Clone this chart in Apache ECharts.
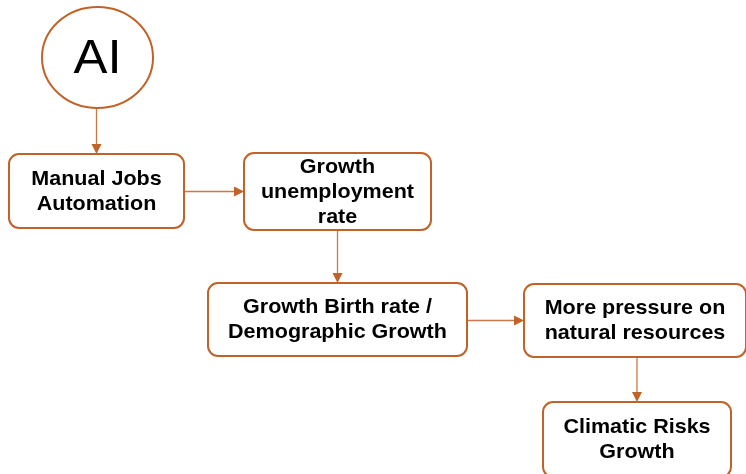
<!DOCTYPE html>
<html>
<head>
<meta charset="utf-8">
<script src="https://cdn.jsdelivr.net/npm/echarts@6/dist/echarts.min.js"></script>
<style>
html,body{margin:0;padding:0;background:#fff;}
#c{width:746px;height:474px;}
</style>
</head>
<body>
<div id="c"></div>
<script>
// ---- data ----
var nodeLabels = [
  'AI',
  'Manual Jobs\nAutomation',
  'Growth\nunemployment\nrate',
  'Growth Birth rate /\nDemographic Growth',
  'More pressure on\nnatural resources',
  'Climatic Risks\nGrowth'
];
var nodeKinds = ['ellipse', 'box', 'box', 'box', 'box', 'box'];
var links = [[0, 1], [1, 2], [2, 3], [3, 4], [4, 5]];

// ---- layout (pixel space of the 746x474 canvas) ----
var nodeBoxes = [
  [42, 7, 153, 108],
  [9, 154, 184, 228],
  [244, 153, 431, 230],
  [208, 283, 467, 356],
  [524, 284, 746, 357],
  [543, 402, 731, 477]
];

var STROKE = '#bf6329';
var chart = echarts.init(document.getElementById('c'));

var nodeData = nodeLabels.map(function (t, i) {
  var b = nodeBoxes[i];
  return { value: [b[0], b[1], b[2], b[3], i], label: t };
});
var linkData = links.map(function (l) { return { value: [l[0], l[1]] }; });

function renderNode(params, api) {
  var i = api.value(4);
  var p0 = api.coord([api.value(0), api.value(1)]);
  var p1 = api.coord([api.value(2), api.value(3)]);
  var x = p0[0], y = p0[1], w = p1[0] - p0[0], h = p1[1] - p0[1];
  var cx = x + w / 2, cy = y + h / 2;
  var isEllipse = nodeKinds[i] === 'ellipse';
  var shapeEl = isEllipse ? {
    type: 'ellipse',
    shape: { cx: cx, cy: cy, rx: w / 2, ry: h / 2 },
    style: { fill: '#fff', stroke: STROKE, lineWidth: 2 }
  } : {
    type: 'rect',
    shape: { x: x, y: y, width: w, height: h, r: 10 },
    style: { fill: '#fff', stroke: STROKE, lineWidth: 2 }
  };
  var textEl = {
    type: 'text',
    x: cx,
    y: isEllipse ? cy + 2 : cy + 0.5,
    scaleX: isEllipse ? 1.06 : 1.05,
    style: {
      text: nodeLabels[i],
      x: 0,
      y: 0,
      align: 'center',
      verticalAlign: 'middle',
      fill: '#000',
      font: isEllipse ? 'normal 48px "Liberation Sans", Arial, sans-serif'
                      : 'bold 20.5px "Liberation Sans", Arial, sans-serif',
      lineHeight: 25
    }
  };
  return { type: 'group', children: [shapeEl, textEl] };
}

function renderLink(params, api) {
  var s = nodeBoxes[api.value(0)], t = nodeBoxes[api.value(1)];
  var a, b, head;
  var L = 10, HW = 5;
  if (t[1] > s[3]) {
    var xc = (t[0] + t[2]) / 2;
    a = api.coord([xc, s[3]]);
    b = api.coord([xc, t[1]]);
    head = [[b[0], b[1]], [b[0] - HW, b[1] - L], [b[0] + HW, b[1] - L]];
    b = [b[0], b[1] - L];
  } else {
    var yc = (t[1] + t[3]) / 2;
    a = api.coord([s[2], yc]);
    b = api.coord([t[0], yc]);
    head = [[b[0], b[1]], [b[0] - L, b[1] - HW], [b[0] - L, b[1] + HW]];
    b = [b[0] - L, b[1]];
  }
  return {
    type: 'group',
    children: [
      { type: 'line', shape: { x1: a[0], y1: a[1], x2: b[0], y2: b[1] },
        style: { stroke: STROKE, lineWidth: 1.3, opacity: 0.85 } },
      { type: 'polygon', shape: { points: head }, style: { fill: STROKE } }
    ]
  };
}

chart.setOption({
  backgroundColor: '#fff',
  animation: false,
  grid: { left: 0, right: 0, top: 0, bottom: 0 },
  xAxis: { type: 'value', min: 0, max: 746, show: false },
  yAxis: { type: 'value', min: 0, max: 474, inverse: true, show: false },
  series: [
    { type: 'custom', renderItem: renderLink, data: linkData, z: 1 },
    { type: 'custom', renderItem: renderNode, data: nodeData, z: 2 }
  ]
});
</script>
</body>
</html>
